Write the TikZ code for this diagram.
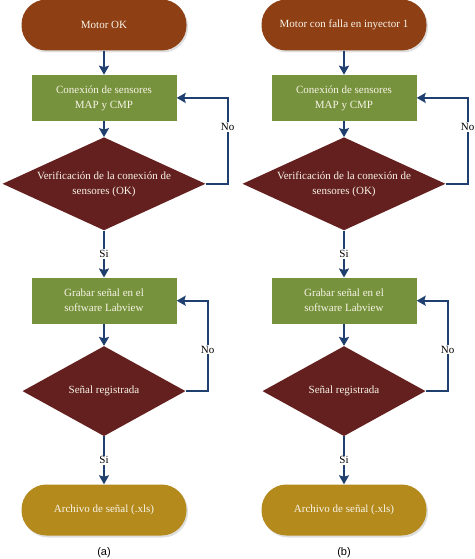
\documentclass[tikz,border=0pt]{standalone}
\usepackage{fontspec}
\setmainfont{Liberation Serif}
\newfontfamily\captionfont{Liberation Sans}
\usetikzlibrary{shapes,arrows,arrows.meta,shadows,calc}
\usetikzlibrary{positioning}
\definecolor{clrInicio}{RGB}{142,63,20}
\definecolor{clrArchivo}{RGB}{180,138,28}
\definecolor{clrProceso}{RGB}{118,146,60}
\definecolor{clrDecision}{RGB}{99,32,30}
\definecolor{clrFlecha}{RGB}{31,63,110}
\definecolor{clrTexto}{RGB}{248,244,232}
\tikzstyle{box_style00}=[anchor=center,align=center,text=clrTexto,font=\fontsize{11}{15}\selectfont]
\tikzstyle{terminal}=[box_style00, rounded corners=25pt, minimum width=165pt, minimum height=51pt,
drop shadow={opacity=0.25,shadow xshift=1.5pt,shadow yshift=-2pt}]
\tikzstyle{inicio}=[terminal, fill=clrInicio]
\tikzstyle{archivo}=[terminal, fill=clrArchivo]
\tikzstyle{proceso}=[box_style00, fill=clrProceso, minimum width=145pt, minimum height=46pt]
\tikzstyle{decision}=[box_style00, diamond, fill=clrDecision, inner sep=0pt, aspect=2]
\tikzstyle{myarrow}=[-{Stealth[length=9pt,width=10pt,inset=1.5pt]}, line width=2.8pt, draw=clrFlecha]
\tikzstyle{noloop}=[myarrow, line width=2.2pt]
\tikzstyle{etiqueta}=[fill=white, text=black, font=\fontsize{11}{12}\selectfont, inner sep=1pt]

\begin{document}
\begin{tikzpicture}[x=1pt,y=1pt]
		\useasboundingbox (0,0) rectangle (474,-559);

		% (a) motor sin falla
		\node[inicio] (A) at (104,-25) {Motor OK} ;

		\node[proceso, below=24pt of A] (B) {Conexión de sensores\\MAP y CMP} ;
		\draw[myarrow] (A) -- (B) ;

		\node[decision, minimum width=203pt, minimum height=93pt, below=16pt of B] (C) {Verificación de la conexión de\\sensores (OK)} ;
		\draw[myarrow] (B) -- (C) ;
		\coordinate (C1) at ($(C.east)+(22,0)$) ;
		\draw[noloop] (C.east) -- (C1) |- (B.east) node[etiqueta, pos=0.33] {No} ;

		\node[proceso, below=47pt of C] (D) {Grabar señal en el\\software Labview} ;
		\draw[myarrow] (C) -- (D) node[etiqueta, midway] {Si} ;

		\node[decision, minimum width=163pt, minimum height=90pt, below=22pt of D] (E) {Señal registrada} ;
		\draw[myarrow] (D) -- (E) ;
		\coordinate (E1) at ($(E.east)+(22,0)$) ;
		\draw[noloop] (E.east) -- (E1) |- (D.east) node[etiqueta, pos=0.23] {No} ;

		\node[archivo, below=48pt of E] (F) {Archivo de señal (.xls)} ;
		\draw[myarrow] (E) -- (F) node[etiqueta, midway] {Si} ;

		\node[font=\captionfont\fontsize{11}{12}\selectfont, below=8pt of F] (Fa) {(a)} ;

		% (b) motor con falla en inyector 1
		\node[inicio] (G) at (344,-25) {Motor con falla en inyector 1} ;

		\node[proceso, below=24pt of G] (H) {Conexión de sensores\\MAP y CMP} ;
		\draw[myarrow] (G) -- (H) ;

		\node[decision, minimum width=203pt, minimum height=93pt, below=16pt of H] (I) {Verificación de la conexión de\\sensores (OK)} ;
		\draw[myarrow] (H) -- (I) ;
		\coordinate (I1) at ($(I.east)+(22,0)$) ;
		\draw[noloop] (I.east) -- (I1) |- (H.east) node[etiqueta, pos=0.33] {No} ;

		\node[proceso, below=47pt of I] (J) {Grabar señal en el\\software Labview} ;
		\draw[myarrow] (I) -- (J) node[etiqueta, midway] {Si} ;

		\node[decision, minimum width=163pt, minimum height=90pt, below=22pt of J] (K) {Señal registrada} ;
		\draw[myarrow] (J) -- (K) ;
		\coordinate (K1) at ($(K.east)+(22,0)$) ;
		\draw[noloop] (K.east) -- (K1) |- (J.east) node[etiqueta, pos=0.23] {No} ;

		\node[archivo, below=48pt of K] (L) {Archivo de señal (.xls)} ;
		\draw[myarrow] (K) -- (L) node[etiqueta, midway] {Si} ;

		\node[font=\captionfont\fontsize{11}{12}\selectfont, below=8pt of L] (Lb) {(b)} ;

\end{tikzpicture}
\end{document}
